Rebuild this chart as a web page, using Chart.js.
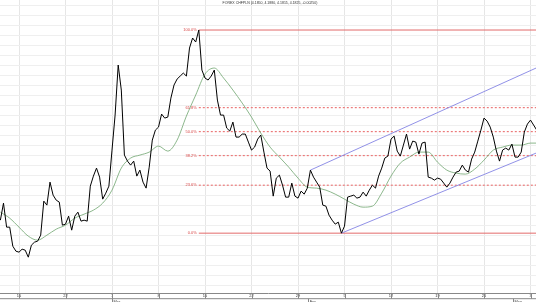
<!DOCTYPE html>
<html lang="en">
<head>
<meta charset="UTF-8">
<title>FOREX CHFPLN</title>
<script src="https://cdn.jsdelivr.net/npm/chart.js"></script>
<style>
  html, body { margin: 0; padding: 0; background: #fff; }
  canvas { display: block; }
</style>
</head>
<body>
<canvas id="fxChart" width="536" height="302"></canvas>
<script>
// closes sampled 3 times per trading day, day 0 = Mon 15 Feb
var priceStart = -2;
var barsPerDay = 3;
var prices = [
  4.1375, 4.1460, 4.1340, 4.1340, 4.1245, 4.1220, 4.1215, 4.1230, 4.1225, 4.1190,
  4.1250, 4.1265, 4.1270, 4.1300, 4.1470, 4.1450, 4.1565, 4.1500, 4.1475, 4.1465,
  4.1350, 4.1355, 4.1395, 4.1325, 4.1395, 4.1415, 4.1370, 4.1375, 4.1370, 4.1545,
  4.1595, 4.1635, 4.1590, 4.1480, 4.1510, 4.1545, 4.1725, 4.1900, 4.2150, 4.2025,
  4.1700, 4.1670, 4.1650, 4.1670, 4.1595, 4.1625, 4.1565, 4.1535, 4.1640, 4.1775,
  4.1825, 4.1840, 4.1905, 4.1885, 4.1890, 4.1985, 4.2050, 4.2080, 4.2095, 4.2110,
  4.2095, 4.2235, 4.2285, 4.2265, 4.2325, 4.2125, 4.2085, 4.2075, 4.2095, 4.2125,
  4.1975, 4.1900, 4.1900, 4.1835, 4.1820, 4.1865, 4.1790, 4.1790, 4.1805, 4.1805,
  4.1765, 4.1725, 4.1740, 4.1780, 4.1800, 4.1715, 4.1635, 4.1620, 4.1495, 4.1585,
  4.1600, 4.1550, 4.1490, 4.1490, 4.1560, 4.1495, 4.1485, 4.1520, 4.1505, 4.1535,
  4.1625, 4.1590, 4.1565, 4.1540, 4.1450, 4.1445, 4.1400, 4.1375, 4.1355, 4.1365,
  4.1310, 4.1345, 4.1490, 4.1495, 4.1500, 4.1485, 4.1490, 4.1515, 4.1495, 4.1525,
  4.1550, 4.1535, 4.1595, 4.1635, 4.1685, 4.1695, 4.1780, 4.1795, 4.1720, 4.1695,
  4.1750, 4.1805, 4.1730, 4.1770, 4.1765, 4.1705, 4.1760, 4.1765, 4.1590, 4.1585,
  4.1575, 4.1585, 4.1580, 4.1560, 4.1540, 4.1560, 4.1590, 4.1615, 4.1620, 4.1650,
  4.1625, 4.1615, 4.1680, 4.1715, 4.1770, 4.1825, 4.1885, 4.1870, 4.1840, 4.1790,
  4.1720, 4.1670, 4.1725, 4.1735, 4.1725, 4.1755, 4.1690, 4.1690, 4.1715, 4.1815,
  4.1855, 4.1875, 4.1850, 4.1825
];

// moving average, one value per day
var maStart = -2;
var maValues = [
  4.1415, 4.1385, 4.1340, 4.1295, 4.1275, 4.1300, 4.1330, 4.1350, 4.1385, 4.1405,
  4.1425, 4.1460, 4.1525, 4.1635, 4.1685, 4.1700, 4.1715, 4.1745, 4.1720, 4.1775,
  4.1895, 4.2000, 4.2105, 4.2135, 4.2085, 4.2025, 4.1960, 4.1890, 4.1810, 4.1740,
  4.1690, 4.1640, 4.1585, 4.1540, 4.1535, 4.1525, 4.1505, 4.1480, 4.1455, 4.1440,
  4.1445, 4.1510, 4.1595, 4.1660, 4.1690, 4.1715, 4.1715, 4.1665, 4.1625, 4.1610,
  4.1605, 4.1630, 4.1675, 4.1725, 4.1740, 4.1750, 4.1750, 4.1760, 4.1760
];

var weekDays = [0, 5, 10, 15, 20, 25, 30, 35, 40, 45, 50, 55];
var weekLabels = ['15', '22', '1', '8', '15', '22', '29', '5', '12', '19', '26', '3'];
var monthDays = [10, 31.1, 53.1];
var monthNames = ['Mar', 'Apr', 'May'];

var fibLevels = [0, 23.6, 38.2, 50, 61.8, 100];
var fibHigh = 4.2325;
var fibLow = 4.1310;
var fibStartDay = 19.333;

var channelUpper = [[31.333, 4.1625], [55.6, 4.2135]];
var channelLower = [[34.667, 4.1310], [55.6, 4.1710]];

var titleText = 'FOREX CHFPLN (4.1850, 4.1880, 4.1815, 4.1825, -0.00250)';

var X_MIN = -2.043, X_MAX = 55.59;
var Y_MIN = 4.1010, Y_MAX = 4.2475, Y_STEP = 0.005;

function fibPrice(pct) { return fibLow + (fibHigh - fibLow) * pct / 100; }

var pricePts = prices.map(function (p, i) { return { x: priceStart + i / barsPerDay, y: p }; });
var maPts = maValues.map(function (p, i) { return { x: maStart + i, y: p }; });

var datasets = [
  { label: 'CHFPLN', data: pricePts, borderColor: '#000', borderWidth: 1, order: 0 },
  { label: 'MA', data: maPts, borderColor: '#6fa46f', borderWidth: 0.8, tension: 0.4,
    cubicInterpolationMode: 'monotone', order: 1 },
  { label: 'ch1', data: channelUpper.map(function (p) { return { x: p[0], y: p[1] }; }),
    borderColor: '#8585e4', borderWidth: 0.9, order: 2 },
  { label: 'ch2', data: channelLower.map(function (p) { return { x: p[0], y: p[1] }; }),
    borderColor: '#8585e4', borderWidth: 0.9, order: 2 }
];
fibLevels.forEach(function (l) {
  var solid = (l === 0 || l === 100);
  datasets.push({
    label: 'fib' + l,
    data: [{ x: fibStartDay, y: fibPrice(l) }, { x: X_MAX, y: fibPrice(l) }],
    borderColor: solid ? '#e36b6b' : '#ec7a7a',
    borderWidth: solid ? 1 : 1.2,
    borderDash: solid ? [] : [2, 2],
    order: 3
  });
});

var fontFam = '"Liberation Sans", Arial, sans-serif';

var overlay = {
  id: 'overlay',
  afterDatasetsDraw: function (chart) {
    var ctx = chart.ctx, xs = chart.scales.x, ys = chart.scales.y;
    ctx.save();
    ctx.font = '4px ' + fontFam;
    ctx.fillStyle = '#d84848';
    ctx.textAlign = 'right';
    ctx.textBaseline = 'middle';
    var lx = xs.getPixelForValue(fibStartDay) - 2;
    fibLevels.forEach(function (l) {
      ctx.fillText(l.toFixed(1) + '%', lx, ys.getPixelForValue(fibPrice(l)));
    });
    ctx.restore();
  },
  afterDraw: function (chart) {
    var ctx = chart.ctx, xs = chart.scales.x, area = chart.chartArea;
    var b = area.bottom;
    ctx.save();
    // title
    ctx.font = '3.5px ' + fontFam;
    ctx.fillStyle = '#333';
    ctx.textAlign = 'center';
    ctx.textBaseline = 'top';
    ctx.fillText(titleText, 270, 1.5);
    // date strip
    ctx.strokeStyle = '#888';
    ctx.lineWidth = 1;
    ctx.beginPath();
    ctx.moveTo(area.left, b + 5.5);
    ctx.lineTo(area.right, b + 5.5);
    weekDays.forEach(function (d) {
      var px = Math.round(xs.getPixelForValue(d)) + 0.5;
      ctx.moveTo(px, b);
      ctx.lineTo(px, b + 5.5);
    });
    ctx.stroke();
    ctx.font = '4px ' + fontFam;
    ctx.fillStyle = '#444';
    ctx.textAlign = 'left';
    monthDays.forEach(function (d, i) {
      var px = Math.round(xs.getPixelForValue(d)) + 0.5;
      ctx.beginPath();
      ctx.moveTo(px, b + 5.5);
      ctx.lineTo(px, b + 9);
      ctx.stroke();
      ctx.fillText(monthNames[i], px + 1, b + 6.5);
    });
    ctx.restore();
  }
};

new Chart(document.getElementById('fxChart').getContext('2d'), {
  type: 'line',
  data: { datasets: datasets },
  options: {
    responsive: false,
    animation: false,
    devicePixelRatio: 1,
    layout: { padding: { left: 0, right: 0, top: 0, bottom: 3 } },
    elements: { point: { radius: 0 }, line: { tension: 0 } },
    plugins: { legend: { display: false }, tooltip: { enabled: false } },
    scales: {
      x: {
        type: 'linear', min: X_MIN, max: X_MAX,
        afterBuildTicks: function (s) { s.ticks = weekDays.map(function (v) { return { value: v }; }); },
        ticks: {
          autoSkip: false, maxRotation: 0, padding: 0.5, color: '#333',
          font: { size: 4, family: fontFam },
          callback: function (v) { return weekLabels[weekDays.indexOf(v)]; }
        },
        grid: { color: '#e6e6e6', drawTicks: false },
        border: { display: true, color: '#888' }
      },
      y: {
        type: 'linear', min: Y_MIN, max: Y_MAX,
        afterBuildTicks: function (s) {
          var t = [];
          for (var k = Math.ceil(Y_MIN / Y_STEP); k * Y_STEP <= Y_MAX + 1e-9; k++) t.push({ value: k * Y_STEP });
          s.ticks = t;
        },
        ticks: { display: false },
        grid: { color: '#efefef', drawTicks: false },
        border: { display: false }
      }
    }
  },
  plugins: [overlay]
});
</script>
</body>
</html>
